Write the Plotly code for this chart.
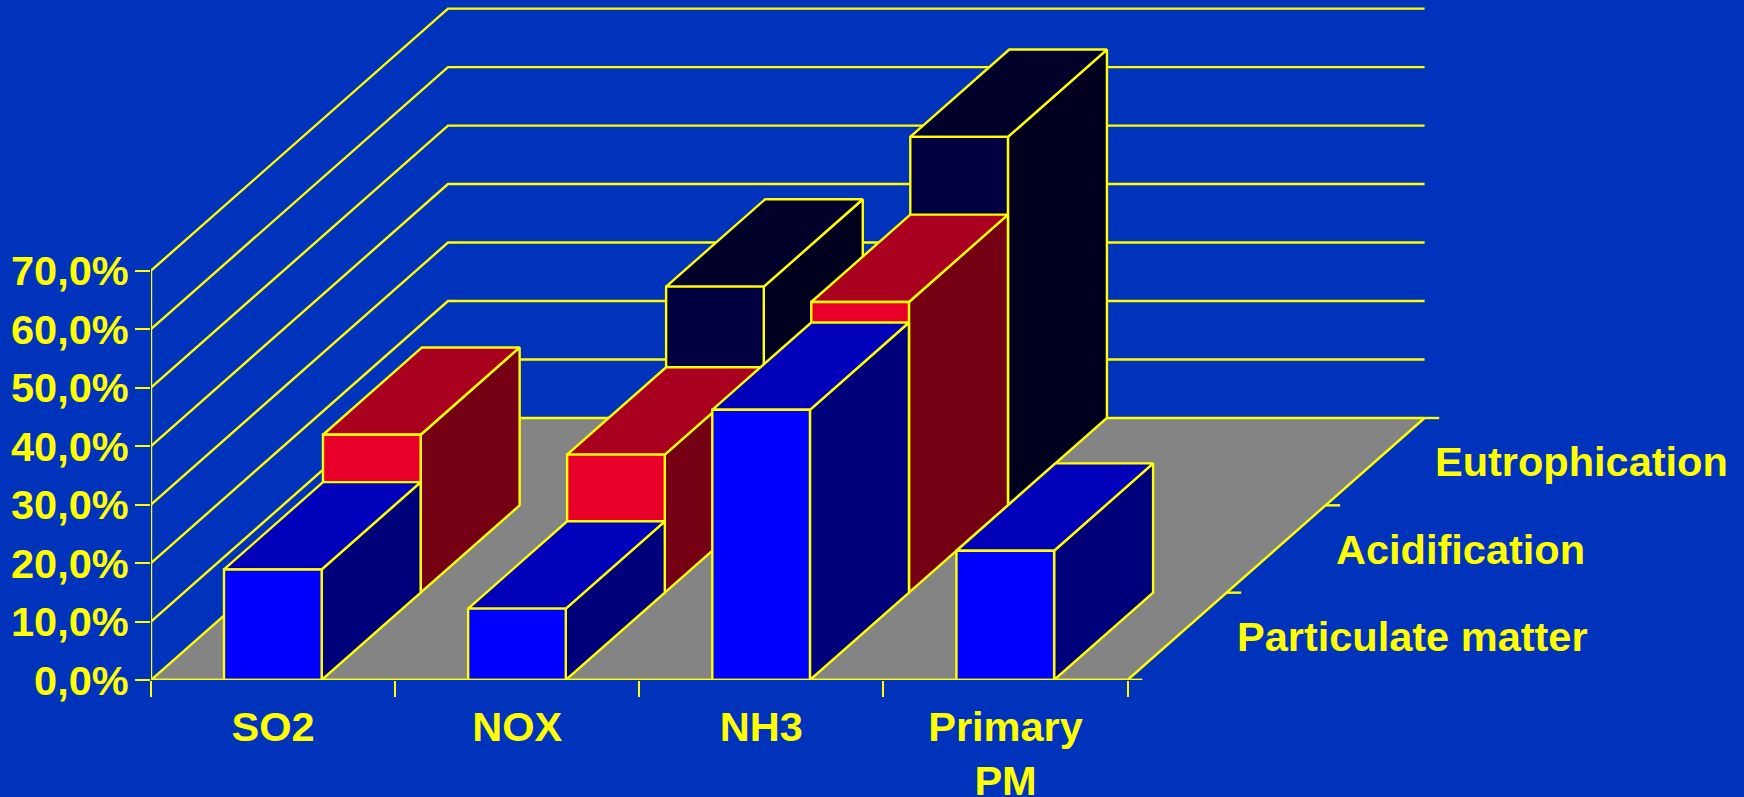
import plotly.graph_objects as go

# ---- data ----
categories = ["SO2", "NOX", "NH3", "Primary<br>PM"]
series_names = ["Particulate matter", "Acidification", "Eutrophication"]
particulate = [18.9, 12.2, 46.2, 22.1]
acidification = [27.0, 23.6, 49.7, 0]
eutrophication = [0, 37.4, 63.0, 0]
y_ticks = [0, 10, 20, 30, 40, 50, 60, 70]
y_labels = ["0,0%", "10,0%", "20,0%", "30,0%", "40,0%", "50,0%", "60,0%", "70,0%"]

# ---- styles ----
BG = "#0033BB"
YEL = "#FFFF00"
FLOOR = "#848484"
FACES = [
    ("#0000FF", "#0000BB", "#00007B"),
    ("#E8002A", "#A8001E", "#750014"),
    ("#000040", "#00002A", "#00001E"),
]
FONT = "Liberation Sans"
LW = 2.4

# ---- oblique projection of (category, depth 0..1, percent) onto the axes ----
W, H = 1744, 797
PX_CAT, PX_PCT = 244.1, 5.85
ORIGIN_X, ORIGIN_Y = 151.3, 680.2
DEPTH_X, DEPTH_Y = 1.2164, 44.8
BAR_W, BAR_OFF = 0.40, 0.299
TICK_X = 0.06


def proj(c, d, v):
    return c + d * DEPTH_X, v + d * DEPTH_Y


def path(points):
    xs, ys = zip(*[proj(*p) for p in points])
    return list(xs), list(ys)


fig = go.Figure()


def poly(points, fill):
    xs, ys = path(points + points[:1])
    fig.add_trace(go.Scatter(x=xs, y=ys, mode="lines", fill="toself", fillcolor=fill,
                             line=dict(color=YEL, width=LW), cliponaxis=False, hoverinfo="skip"))


def segs(items, width=LW):
    xs, ys = [], []
    for it in items:
        a, b = path(it)
        xs += a + [None]
        ys += b + [None]
    fig.add_trace(go.Scatter(x=xs, y=ys, mode="lines", line=dict(color=YEL, width=width),
                             cliponaxis=False, hoverinfo="skip"))


n = len(categories)
# walls
segs([[(0, 0, t), (0, 1, t), (n, 1, t)] for t in y_ticks[1:]])
# floor
poly([(0, 0, 0), (n, 0, 0), (n, 1, 0), (0, 1, 0)], FLOOR)
# axes and the depth ticks on the right edge of the floor
segs([[(0, 0, y_ticks[0]), (0, 0, y_ticks[-1])]])
nd = len(series_names)
segs([[(n, k / nd, 0), (n + TICK_X, k / nd, 0)] for k in range(nd + 1)])

# bars, back series first
all_series = [particulate, acidification, eutrophication]
for s in reversed(range(nd)):
    d0, d1 = s / nd, (s + 1) / nd
    front, top, side = FACES[s]
    for i, v in enumerate(all_series[s]):
        if not v:
            continue
        x0, x1 = i + BAR_OFF, i + BAR_OFF + BAR_W
        poly([(x1, d0, 0), (x1, d1, 0), (x1, d1, v), (x1, d0, v)], side)
        poly([(x0, d0, v), (x1, d0, v), (x1, d1, v), (x0, d1, v)], top)
        poly([(x0, d0, 0), (x1, d0, 0), (x1, d0, v), (x0, d0, v)], front)

# series labels beside the floor
for s, name in enumerate(series_names):
    x, y = proj(n, (s + 0.5) / nd, 0)
    fig.add_annotation(x=x, y=y, text=name, showarrow=False, xanchor="left", yanchor="middle",
                       xshift=58, font=dict(family=FONT, size=41.5, color=YEL, weight=700))

segs([[(0, 0, 0), (n + TICK_X, 0, 0)]])

fig.update_layout(
    width=W, height=H, margin=dict(l=ORIGIN_X, r=0, t=0, b=H - ORIGIN_Y, pad=0),
    paper_bgcolor=BG, plot_bgcolor=BG, showlegend=False, hovermode=False,
    xaxis=dict(range=[0, (W - ORIGIN_X) / PX_CAT], automargin=False,
               tickmode="array", tickvals=[i + 0.5 for i in range(n)], ticktext=categories,
               ticks="outside", ticklen=16, tickcolor="rgba(0,0,0,0)",
               ticklabelstandoff=-6,
               minor=dict(tickmode="array", tickvals=list(range(n + 1)), ticks="outside",
                          ticklen=16, tickcolor=YEL, tickwidth=LW, showgrid=False),
               showgrid=False, zeroline=False, showline=False,
               tickangle=0,
               tickfont=dict(family=FONT, size=41.5, color=YEL, weight=700)),
    yaxis=dict(range=[0, ORIGIN_Y / PX_PCT], automargin=False,
               tickmode="array", tickvals=y_ticks, ticktext=y_labels,
               ticks="outside", ticklen=15, tickcolor=YEL, tickwidth=LW,
               ticklabelstandoff=-2,
               showgrid=False, zeroline=False, showline=False,
               tickfont=dict(family=FONT, size=41.5, color=YEL, weight=700)),
)

fig.write_html("out.html", config=dict(displayModeBar=False), post_script=(
    "document.body.style.margin='0';document.body.style.overflow='hidden';"
    f"document.body.style.background='{BG}';"))
